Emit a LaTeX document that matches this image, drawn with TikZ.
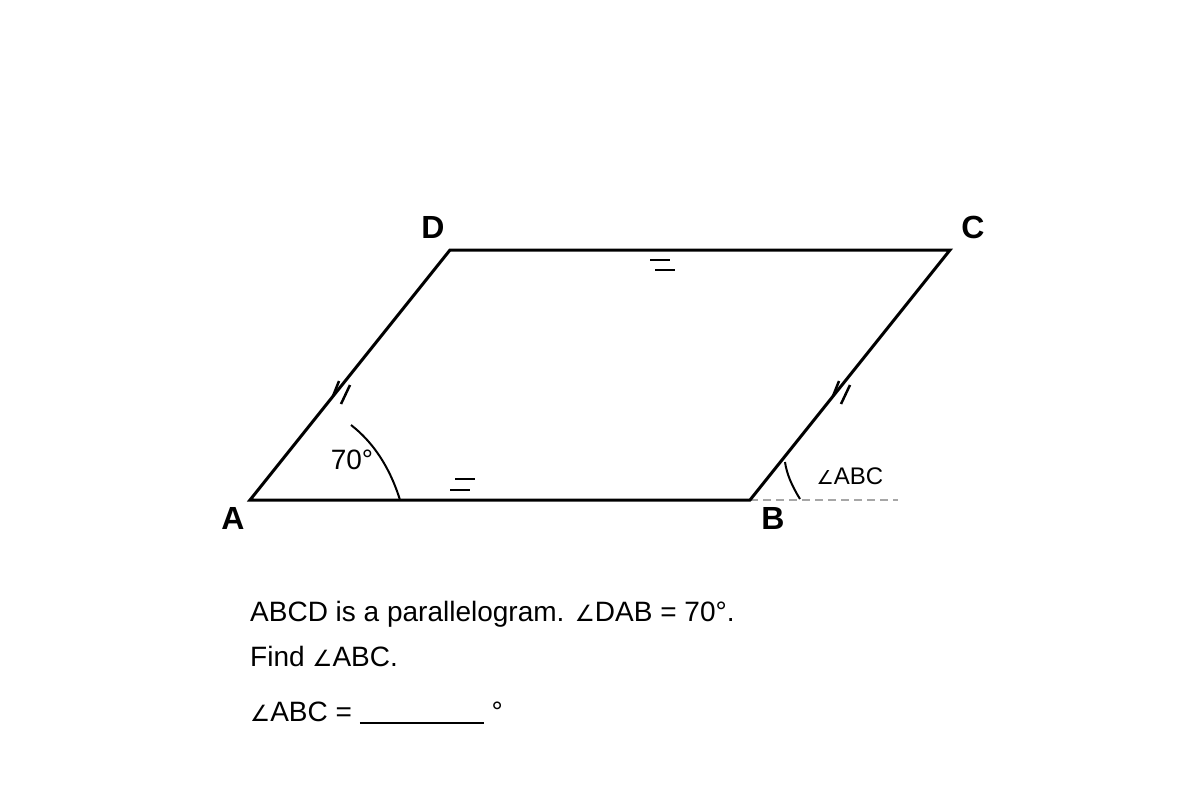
\documentclass[tikz,border=0pt]{standalone}
\usepackage{fontspec}
\setmainfont{Liberation Sans}
\newfontfamily\anglefont{DejaVu Sans}
\newcommand{\ang}{{\anglefont\fontsize{0.8em}{1em}\selectfont ∠}}

\tikzset{
	side/.style={line width=3pt, line join=miter},
	tick/.style={line width=2.5pt},
	arcmark/.style={line width=2pt},
	vertex/.style={font=\bfseries\fontsize{32}{38}\selectfont},
	prose/.style={anchor=base west, font=\fontsize{28}{34}\selectfont, inner sep=0}
}

\begin{document}
\begin{tikzpicture}[x=1pt, y=-1pt]
	\useasboundingbox (0, 0) rectangle (1200, 800);
	% Corners and sides:
	\coordinate (A) at (250, 500);
	\coordinate (B) at (750, 500);
	\coordinate (C) at (950, 250);
	\coordinate (D) at (450, 250);
	\coordinate (Bx) at (898, 500);
	\draw[gray!70, line width=1.5pt, dash pattern=on 8pt off 5pt] (B) -- (Bx);
	\draw[side] (A) -- (B) -- (C) -- (D) -- cycle;
	% Tick marks on AD and BC:
	\draw[tick] (339, 381) -- (333, 396);
	\draw[tick] (350, 385) -- (341, 404);
	\draw[tick] (839, 381) -- (833, 396);
	\draw[tick] (850, 385) -- (841, 404);
	% Equal marks on AB and DC:
	\draw[tick] (455, 479) -- (475, 479);
	\draw[tick] (450, 490) -- (470, 490);
	\draw[tick] (650, 260) -- (670, 260);
	\draw[tick] (655, 270) -- (675, 270);
	% Angle marks:
	\draw[arcmark] (400, 500) .. controls (389.8, 467.3) and (373.3, 442.3) .. (351, 425);
	\draw[arcmark] (800, 499) .. controls (791.7, 485.6) and (786.7, 473.9) .. (785, 462);
	\node[font=\fontsize{28}{34}\selectfont, inner sep=0] (DAB) at (352, 460) {70°};
	\node[font=\fontsize{24}{28}\selectfont, inner sep=0] (ABC) at (850, 476) {\ang ABC};
	% Vertex labels:
	\node[vertex] (LA) at (233, 518) {A};
	\node[vertex] (LB) at (773, 518) {B};
	\node[vertex] (LC) at (973, 227) {C};
	\node[vertex] (LD) at (433, 227) {D};
	% Question text:
	\node[prose] (Q1) at (250, 621) {ABCD is a parallelogram. \ang DAB = 70°.};
	\node[prose] (Q2) at (250, 666) {Find \ang ABC.};
	\node[prose] (Q3) at (250, 721) {\ang ABC = \rule[-3pt]{124pt}{2pt} °};
\end{tikzpicture}
\end{document}
